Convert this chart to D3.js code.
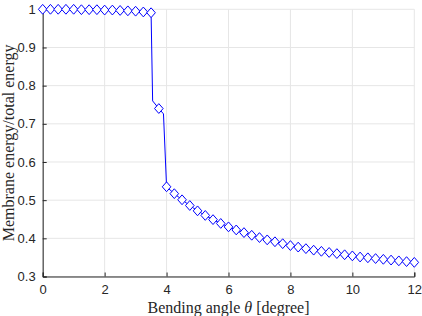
<!DOCTYPE html>
<html>
<head>
<meta charset="utf-8">
<script src="https://cdn.jsdelivr.net/npm/d3@7"></script>
<style>
  html, body { margin: 0; padding: 0; background: #fff; }
  svg { display: block; }
  .tick text { font-family: "Liberation Sans", Arimo, Helvetica, Arial, sans-serif; font-size: 13px; }
  .lbl { font-family: "Liberation Serif", "DejaVu Serif", "Times New Roman", serif; font-size: 16px; }
</style>
</head>
<body>
<svg id="chart" width="422" height="316"></svg>
<script>
// ---- data ----
const angles = [0, 0.25, 0.5, 0.75, 1, 1.25, 1.5, 1.75, 2, 2.25, 2.5, 2.75, 3, 3.25, 3.5,
  3.55, 3.75, 3.9,
  4, 4.25, 4.5, 4.75, 5, 5.25, 5.5, 5.75, 6, 6.25, 6.5, 6.75, 7, 7.25, 7.5, 7.75,
  8, 8.25, 8.5, 8.75, 9, 9.25, 9.5, 9.75, 10, 10.25, 10.5, 10.75, 11, 11.25, 11.5, 11.75, 12];
const energyRatio = [1.000, 1.000, 1.000, 1.000, 1.000, 0.999, 0.999, 0.999, 0.998, 0.998, 0.997, 0.996, 0.995, 0.993, 0.991,
  0.760, 0.740, 0.726,
  0.535, 0.517, 0.501, 0.486, 0.472, 0.460, 0.449, 0.439, 0.430, 0.422, 0.415, 0.408, 0.402, 0.396, 0.391, 0.386,
  0.381, 0.377, 0.373, 0.369, 0.366, 0.363, 0.360, 0.357, 0.354, 0.351, 0.349, 0.347, 0.345, 0.343, 0.341, 0.339, 0.337];
// markers are shown only on the 0.25-degree sampling points
const markerStep = 0.25;
const xTicks = [0, 2, 4, 6, 8, 10, 12];
const yTicks = [0.3, 0.4, 0.5, 0.6, 0.7, 0.8, 0.9, 1];
const xLabelText = "Bending angle ";
const yLabelText = "Membrane energy/total energy";

// ---- layout ----
const svg = d3.select("#chart");
const mLeft = 42.7, mRight = 414.3, mTop = 9.3, mBottom = 276.5;
const x = d3.scaleLinear().domain([0, 12]).range([mLeft, mRight]);
const y = d3.scaleLinear().domain([0.3, 1]).range([mBottom, mTop]);

const data = angles.map((a, i) => ({ a, v: energyRatio[i] }));
const markers = data.filter(d => Math.abs(d.a / markerStep - Math.round(d.a / markerStep)) < 1e-9);

// grid
const grid = svg.append("g").attr("stroke", "#e6e6e6").attr("stroke-width", 1);
xTicks.forEach(t => grid.append("line")
  .attr("x1", x(t)).attr("x2", x(t)).attr("y1", mTop).attr("y2", mBottom));
yTicks.forEach(t => grid.append("line")
  .attr("x1", mLeft).attr("x2", mRight).attr("y1", y(t)).attr("y2", y(t)));

// axes
const xAxis = d3.axisBottom(x).tickValues(xTicks).tickSize(-4).tickPadding(8).tickFormat(d3.format("d"));
const yAxis = d3.axisLeft(y).tickValues(yTicks).tickSize(-4).tickPadding(8)
  .tickFormat(d => d === 1 ? "1" : d3.format(".1f")(d));

const gx = svg.append("g").attr("transform", `translate(0,${mBottom})`).call(xAxis);
const gy = svg.append("g").attr("transform", `translate(${mLeft},0)`).call(yAxis);
[gx, gy].forEach(g => {
  g.attr("font-family", null).attr("font-size", null);
  g.select(".domain").attr("stroke", "#262626").attr("stroke-width", 1);
  g.selectAll(".tick line").attr("stroke", "#262626");
  g.selectAll(".tick text").attr("fill", "#262626");
});
gx.selectAll(".tick text").attr("dy", "0.85em").attr("y", 6);
gy.selectAll(".tick text").attr("x", -7);

// line
const line = d3.line().x(d => x(d.a)).y(d => y(d.v));
svg.append("path").datum(data)
  .attr("d", line).attr("fill", "none").attr("stroke", "#0000ff").attr("stroke-width", 1);

// diamond markers
const hw = 4.3, hh = 4.9;
svg.append("g").selectAll("path").data(markers).join("path")
  .attr("d", d => {
    const cx = x(d.a), cy = y(d.v);
    return `M${cx},${cy - hh}L${cx + hw},${cy}L${cx},${cy + hh}L${cx - hw},${cy}Z`;
  })
  .attr("fill", "#fff").attr("stroke", "#0000ff").attr("stroke-width", 1);

// labels
const xl = svg.append("text").attr("class", "lbl")
  .attr("x", (mLeft + mRight) / 2).attr("y", 313)
  .attr("text-anchor", "middle").attr("fill", "#262626");
xl.append("tspan").text(xLabelText);
xl.append("tspan").attr("font-style", "italic").text("θ");
xl.append("tspan").text(" [degree]");

svg.append("text").attr("class", "lbl")
  .attr("transform", `translate(14,${(mTop + mBottom) / 2}) rotate(-90)`)
  .attr("text-anchor", "middle").attr("fill", "#262626")
  .text(yLabelText);
</script>
</body>
</html>
